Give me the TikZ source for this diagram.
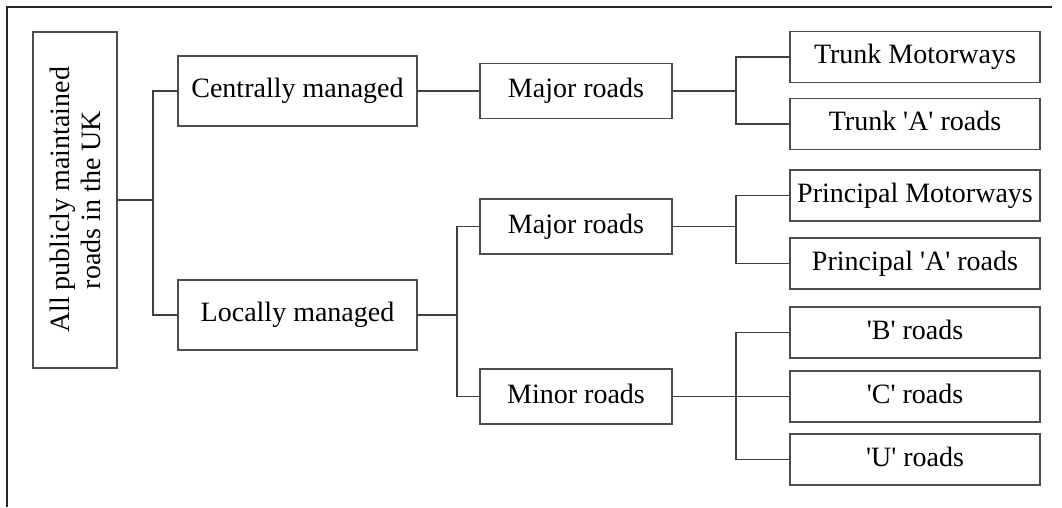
\documentclass[tikz,border=0pt]{standalone}
\usepackage{fontspec}
\setmainfont{Liberation Serif}[Ligatures=TeXOff]
\begin{document}
\begin{tikzpicture}[x=1pt,y=-1pt,
  box/.style={draw=black!70, line width=1.3pt, inner sep=0pt, align=center,
    font=\fontsize{28}{32}\selectfont, text height=19pt, text depth=6pt},
  leaf/.style={box, minimum width=250pt, minimum height=51pt},
  mid/.style={box, minimum width=192pt, minimum height=55pt},
  top/.style={box, minimum width=239pt, minimum height=70pt},
  link/.style={draw=black!75, line width=1.4pt}]
\useasboundingbox (0,0) rectangle (1062,507);
% frame edges
\draw[black!85, line width=1.6pt] (7,507) -- (7,7) -- (1052,7);

% root
\node[draw=black!70, line width=1.3pt, minimum width=336pt, minimum height=84pt,
  inner sep=0pt, rotate=90, align=center, font=\fontsize{28}{31}\selectfont]
  (root) at (75,200) {All publicly maintained\\roads in the UK};

% second level
\node[top] (cm) at (297.5,91) {Centrally managed};
\node[top] (lm) at (297.5,315) {Locally managed};

% third level
\node[mid] (mr1) at (576,91) {Major roads};
\node[mid] (mr2) at (576,226.5) {Major roads};
\node[mid] (mn) at (576,396.5) {Minor roads};

% leaves
\node[leaf] (tm) at (915,57) {Trunk Motorways};
\node[leaf] (ta) at (915,124) {Trunk 'A' roads};
\node[leaf] (pm) at (915,195.5) {Principal Motorways};
\node[leaf] (pa) at (915,263.5) {Principal 'A' roads};
\node[leaf] (rb) at (915,332.5) {'B' roads};
\node[leaf] (rc) at (915,396.5) {'C' roads};
\node[leaf] (ru) at (915,459.5) {'U' roads};

% junction points
\coordinate (j1) at (153,200);
\coordinate (j2) at (736,91);
\coordinate (j3) at (457,315);
\coordinate (j4) at (736,226.5);
\coordinate (j5) at (736,396.5);

% connectors
\draw[link] (root.south) -- (j1);
\draw[link] (cm.west) -| (j1);
\draw[link] (lm.west) -| (j1);

\draw[link] (cm.east) -- (mr1.west);
\draw[link] (mr1.east) -- (j2);
\draw[link] (tm.west) -| (j2);
\draw[link] (ta.west) -| (j2);

\draw[link] (lm.east) -- (j3);
\draw[link] (mr2.west) -| (j3);
\draw[link] (mn.west) -| (j3);

\draw[link] (mr2.east) -- (j4);
\draw[link] (pm.west) -| (j4);
\draw[link] (pa.west) -| (j4);

\draw[link] (mn.east) -- (j5);
\draw[link] (rb.west) -| (j5);
\draw[link] (rc.west) -| (j5);
\draw[link] (ru.west) -| (j5);
\end{tikzpicture}
\end{document}
